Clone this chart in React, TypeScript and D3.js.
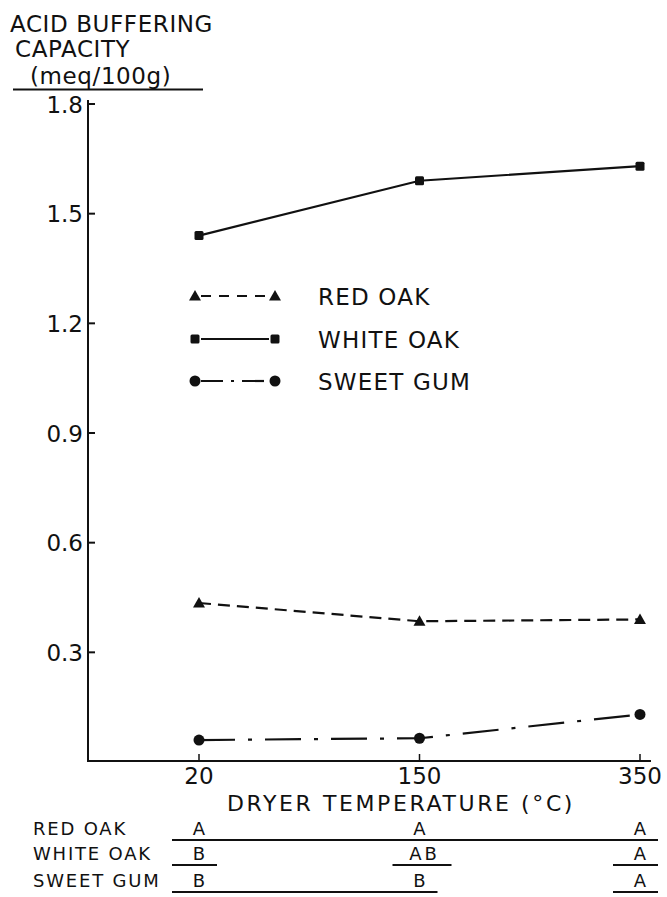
import React from "react";
import * as d3 from "d3";

// Dryer temperatures (°C) along the x axis
const temps = ["20", "150", "350"];

// Acid buffering capacity, meq/100g
const redOak = [0.435, 0.385, 0.39];
const whiteOak = [1.44, 1.59, 1.63];
const sweetGum = [0.06, 0.065, 0.13];

const yTicks = [0.3, 0.6, 0.9, 1.2, 1.5, 1.8];

// Mean-separation letters under each temperature
const redOakLetters = ["A", "A", "A"];
const whiteOakLetters = ["B", "AB", "A"];
const sweetGumLetters = ["B", "B", "A"];

// Underline groups (index ranges of temperatures sharing a letter)
const redOakGroups = [[0, 2]];
const whiteOakGroups = [[0, 0], [1, 1], [2, 2]];
const sweetGumGroups = [[0, 1], [2, 2]];

const W = 667;
const H = 897;
const FONT = "'DejaVu Sans', sans-serif";
const INK = "#111";

const x = d3.scalePoint<string>().domain(temps).range([199, 640]);
const y = d3.scaleLinear().domain([0, 1.8]).range([762, 104]);

type Series = {
  name: string;
  values: number[];
  dash: string;
  marker: "triangle" | "square" | "circle";
};

const series: Series[] = [
  { name: "RED  OAK", values: redOak, dash: "12 7", marker: "triangle" },
  { name: "WHITE  OAK", values: whiteOak, dash: "", marker: "square" },
  { name: "SWEET  GUM", values: sweetGum, dash: "36 13 4 13", marker: "circle" },
];

function Marker({ kind, cx, cy }: { kind: string; cx: number; cy: number }) {
  if (kind === "triangle") {
    const p = d3.symbol().type(d3.symbolTriangle).size(62)();
    return <path d={p || ""} transform={`translate(${cx},${cy + 1})`} fill={INK} />;
  }
  if (kind === "square") {
    return <rect x={cx - 4.5} y={cy - 4.5} width={9} height={9} rx={1.5} fill={INK} />;
  }
  return <circle cx={cx} cy={cy} r={5.5} fill={INK} />;
}

export default function App() {
  const line = d3
    .line<number>()
    .x((_, i) => x(temps[i]) as number)
    .y((d) => y(d));

  const axisLeft = 88;
  const axisBottom = 761;
  const axisRight = 651;

  const legendY = [296, 339, 381];
  const legendX0 = 195;
  const legendX1 = 275;

  const tableRows = [
    { label: "RED  OAK", letters: redOakLetters, groups: redOakGroups, y: 835 },
    { label: "WHITE OAK", letters: whiteOakLetters, groups: whiteOakGroups, y: 860 },
    { label: "SWEET GUM", letters: sweetGumLetters, groups: sweetGumGroups, y: 887 },
  ];

  return (
    <svg
      width={W}
      height={H}
      viewBox={`0 0 ${W} ${H}`}
      style={{ position: "absolute", left: 0, top: 0, background: "#fff" }}
    >
      <rect width={W} height={H} fill="#fff" />

      {/* y-axis title */}
      <g fontFamily={FONT} fill={INK} fontSize={23} letterSpacing={0.6}>
        <text x={10} y={32}>ACID BUFFERING</text>
        <text x={15} y={57}>CAPACITY</text>
        <text x={30} y={84}>(meq/100g)</text>
      </g>
      <line x1={13} x2={203} y1={89.5} y2={89.5} stroke={INK} strokeWidth={2} />

      {/* axes */}
      <line x1={axisLeft} x2={axisLeft} y1={100} y2={axisBottom + 1} stroke={INK} strokeWidth={2} />
      <line x1={axisLeft - 1} x2={axisRight} y1={axisBottom} y2={axisBottom} stroke={INK} strokeWidth={2} />

      {yTicks.map((t) => (
        <g key={t}>
          <line x1={axisLeft} x2={axisLeft + 7} y1={y(t)} y2={y(t)} stroke={INK} strokeWidth={2} />
          <text
            x={83}
            y={y(t) + 8.5}
            textAnchor="end"
            fontFamily={FONT}
            fontSize={23}
            fill={INK}
          >
            {d3.format(".1f")(t)}
          </text>
        </g>
      ))}

      {temps.map((t) => (
        <g key={t}>
          <line
            x1={x(t)}
            x2={x(t)}
            y1={axisBottom}
            y2={axisBottom - 7}
            stroke={INK}
            strokeWidth={1.5}
          />
          <text
            x={x(t)}
            y={784}
            textAnchor="middle"
            fontFamily={FONT}
            fontSize={23}
            fill={INK}
          >
            {t}
          </text>
        </g>
      ))}

      <text
        x={401}
        y={811}
        textAnchor="middle"
        fontFamily={FONT}
        fontSize={22}
        letterSpacing={2.6}
        fill={INK}
      >
        DRYER TEMPERATURE (°C)
      </text>

      {/* data series */}
      {series.map((s) => (
        <g key={s.name}>
          <path
            d={line(s.values) || ""}
            fill="none"
            stroke={INK}
            strokeWidth={2.2}
            strokeDasharray={s.dash || undefined}
          />
          {s.values.map((v, i) => (
            <Marker key={i} kind={s.marker} cx={x(temps[i]) as number} cy={y(v)} />
          ))}
        </g>
      ))}

      {/* legend */}
      {series.map((s, i) => (
        <g key={s.name}>
          <line
            x1={legendX0 + 6}
            x2={legendX1 - 6}
            y1={legendY[i]}
            y2={legendY[i]}
            stroke={INK}
            strokeWidth={2.2}
            strokeDasharray={s.marker === "triangle" ? "10 8" : s.marker === "circle" ? "22 8 3 8" : undefined}
          />
          <Marker kind={s.marker} cx={legendX0} cy={legendY[i]} />
          <Marker kind={s.marker} cx={legendX1} cy={legendY[i]} />
          <text
            x={318}
            y={legendY[i] + 8.5}
            fontFamily={FONT}
            fontSize={23}
            letterSpacing={1.2}
            fill={INK}
          >
            {s.name}
          </text>
        </g>
      ))}

      {/* mean separation table */}
      {tableRows.map((r) => (
        <g key={r.label} fontFamily={FONT} fill={INK}>
          <text x={33} y={r.y} fontSize={18} letterSpacing={1.8}>
            {r.label}
          </text>
          {r.letters.map((l, i) => (
            <text
              key={i}
              x={(x(temps[i]) as number) + (l.length > 1 ? 5 : 0)}
              y={r.y}
              fontSize={18}
              textAnchor="middle"
              letterSpacing={l.length > 1 ? 3 : 0}
            >
              {l}
            </text>
          ))}
          {r.groups.map(([a, b], k) => (
            <line
              key={k}
              x1={(x(temps[a]) as number) - 27}
              x2={Math.min((x(temps[b]) as number) + (r.letters[b].length > 1 ? 32 : 18), 661)}
              y1={r.y + 5}
              y2={r.y + 5}
              stroke={INK}
              strokeWidth={1.8}
            />
          ))}
        </g>
      ))}
    </svg>
  );
}
